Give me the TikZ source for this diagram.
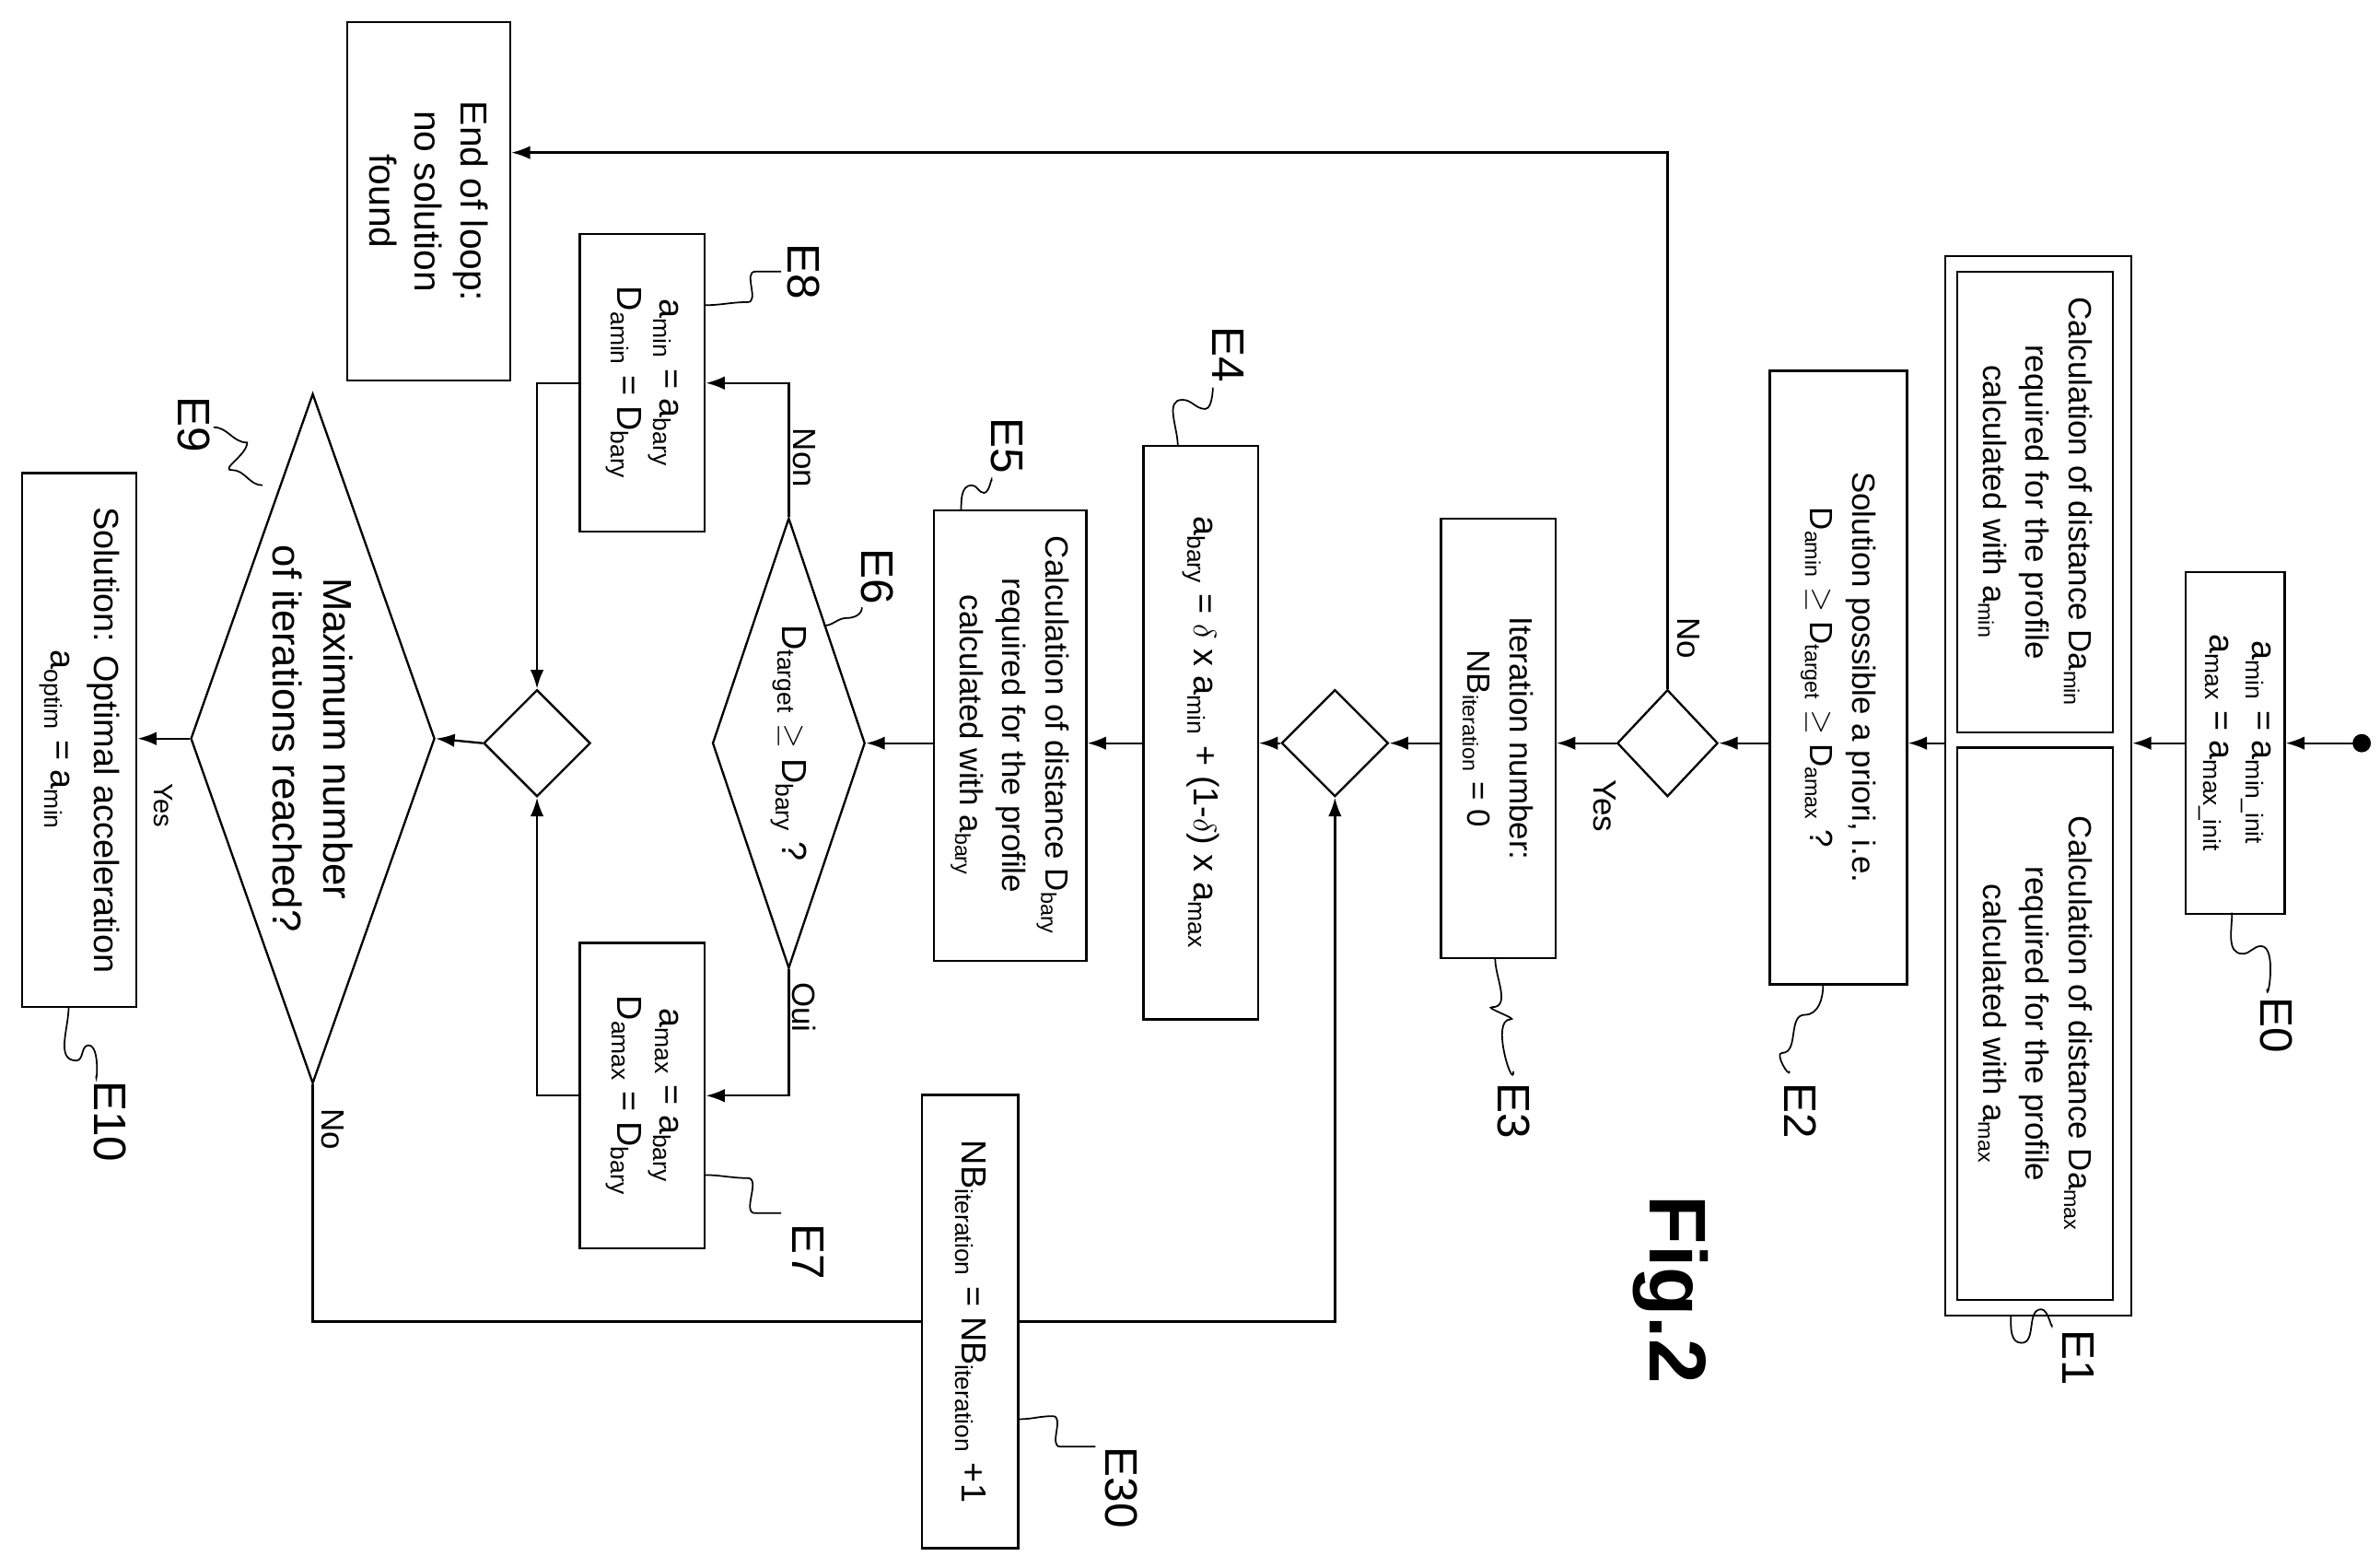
\documentclass[tikz,border=0pt]{standalone}
\usepackage{fontspec}
\setmainfont{Liberation Sans}
\usetikzlibrary{shapes.geometric,arrows.meta,calc}
\newcommand{\sbs}[1]{\textsubscript{#1}}
\begin{document}
\begin{tikzpicture}[x=0.02cm,y=-0.02cm,
  every node/.style={font=\fontsize{12}{16}\selectfont},
  box/.style={draw,rotate=-90,align=center,fill=white,inner sep=2pt,line width=0.8pt},
  dia/.style={draw,diamond,inner sep=0pt,line width=0.8pt},
  txt/.style={rotate=-90,align=center},
  lab/.style={rotate=-90,font=\fontsize{17}{20}\selectfont},
  arr/.style={line width=0.8pt,-{Latex[length=7pt,width=5pt]}},
  sq/.style={line width=0.6pt}]
\useasboundingbox (0,0) rectangle (1560,1027);
% nodes
\fill (1548,487) circle (6) coordinate (start);
\node[box,minimum width=224*0.02cm,minimum height=65*0.02cm,font=\fontsize{13}{16}\selectfont] (e0) at (1465,487) {a\sbs{min} = a\sbs{min\_init}\\a\sbs{max} = a\sbs{max\_init}};
\node[box,minimum width=694*0.02cm,minimum height=122*0.02cm] (e1) at (1336,515) {};
\node[box,minimum width=302*0.02cm,minimum height=102*0.02cm] (e1a) at (1334,329) {Calculation of distance Da\sbs{min}\\required for the profile\\calculated with a\sbs{min}};
\node[box,minimum width=362*0.02cm,minimum height=102*0.02cm] (e1b) at (1334,671) {Calculation of distance Da\sbs{max}\\required for the profile\\calculated with a\sbs{max}};
\node[box,minimum width=402*0.02cm,minimum height=90*0.02cm] (e2) at (1205,444) {Solution possible a priori, i.e.\\D\sbs{amin} $\geq$ D\sbs{target} $\geq$ D\sbs{amax} ?};
\node[dia,minimum width=66*0.02cm,minimum height=70*0.02cm] (d1) at (1093,487) {};
\node[box,minimum width=235*0.02cm,minimum height=107*0.02cm,font=\fontsize{14}{17}\selectfont] (end) at (281,132) {End of loop:\\no solution\\found};
\node[box,minimum width=288*0.02cm,minimum height=75*0.02cm] (e3) at (982,484) {Iteration number:\\NB\sbs{iteration} = 0};
\node[dia,minimum width=70*0.02cm,minimum height=70*0.02cm] (d2) at (875,487) {};
\node[box,minimum width=376*0.02cm,minimum height=75*0.02cm,font=\fontsize{13}{16}\selectfont] (e4) at (787,480) {a\sbs{bary} = $\delta$ x a\sbs{min} + (1-$\delta$) x a\sbs{max}};
\node[box,minimum width=295*0.02cm,minimum height=100*0.02cm] (e5) at (662,482) {Calculation of distance D\sbs{bary}\\required for the profile\\calculated with a\sbs{bary}};
\node[dia,minimum width=100*0.02cm,minimum height=295*0.02cm] (e6) at (517,487) {};
\node[txt,font=\fontsize{13}{16}\selectfont] at (e6) {D\sbs{target} $\geq$ D\sbs{bary} ?};
\node[box,minimum width=195*0.02cm,minimum height=82*0.02cm,font=\fontsize{13}{16}\selectfont] (e8) at (421,251) {a\sbs{min} = a\sbs{bary}\\D\sbs{amin} = D\sbs{bary}};
\node[box,minimum width=200*0.02cm,minimum height=82*0.02cm,font=\fontsize{13}{16}\selectfont] (e7) at (421,718) {a\sbs{max} = a\sbs{bary}\\D\sbs{amax} = D\sbs{bary}};
\node[dia,minimum width=70*0.02cm,minimum height=70*0.02cm] (d3) at (352,487) {};
\node[dia,minimum width=160*0.02cm,minimum height=452*0.02cm] (e9) at (205,484) {};
\node[txt,font=\fontsize{15}{19}\selectfont] at (e9) {Maximum number\\of iterations reached?};
\node[box,minimum width=350*0.02cm,minimum height=75*0.02cm,font=\fontsize{13}{16}\selectfont] (e10) at (52,485) {Solution: Optimal acceleration\\a\sbs{optim} = a\sbs{min}};
\coordinate (c30) at (636,866);
% connectors
\draw[arr] (start) -- (e0.north);
\draw[arr] (e0.south) -- (e0.south -| e1.north);
\draw[arr] (e1.south |- start) -- (start -| e2.north);
\draw[arr] (e2.south |- d1) -- (d1.east);
\draw[arr] (d1.north) |- ($(end.north)+(0,-32)$);
\draw[arr] (d1.west) -- (e3.north |- d1);
\draw[arr] (e3.south |- d2) -- (d2.east);
\draw[arr] (d2.west) -- (e4.north |- d2);
\draw[arr] (e4.south |- d2) -- (e5.north |- d2);
\draw[arr] (e5.south |- d2) -- (e6.east);
\draw[arr] (e6.north) |- (e8.north);
\draw[arr] (e6.south) |- (e7.north);
\draw[arr] (e8.south) -| (d3.north);
\draw[arr] (e7.south) -| (d3.south);
\draw[arr] (d3.west) -- (e9.east);
\draw[arr] (e9.west) -- (e10.north |- e9.west);
\draw[arr] (e9.south) |- (c30) -| (d2.south);
\node[box,minimum width=297*0.02cm,minimum height=63*0.02cm,font=\fontsize{13}{16}\selectfont] (e30) at (c30) {NB\sbs{iteration} = NB\sbs{iteration} +1};
% branch labels
\node[txt] (lno1) at (1107,418) {No};
\node[txt] (lyes1) at (1052,528) {Yes};
\node[txt] (lnon) at (527,300) {Non};
\node[txt] (loui) at (527,660) {Oui};
\node[txt,font=\fontsize{10}{12}\selectfont] (lyes2) at (107,528) {Yes};
\node[txt] (lno2) at (218,740) {No};
% reference labels
\node[lab] (t0) at (1492,672) {E0};
\node[lab] (t1) at (1362,890) {E1};
\node[lab] (t2) at (1180,728) {E2};
\node[lab] (t3) at (992,728) {E3};
\node[lab] (t4) at (805,232) {E4};
\node[lab] (t5) at (660,292) {E5};
\node[lab] (t6) at (575,378) {E6};
\node[lab] (t7) at (530,820) {E7};
\node[lab] (t8) at (527,178) {E8};
\node[lab] (t9) at (127,278) {E9};
\node[lab] (t10) at (72,735) {E10};
\node[lab] (t30) at (735,975) {E30};
\node[rotate=-90,font=\bfseries\fontsize{30}{34}\selectfont] (fig) at (1095,845) {Fig.2};
% squiggles
\draw[sq] (1463,598) to[out=-90,in=180] (1470,625) to[out=0,in=180] (1482,620) to[out=0,in=-90] (1486,648);
\draw[sq] (1318,862) to[out=-90,in=180] (1325,880) to[out=0,in=180] (1338,858) to[out=0,in=-90] (1345,868);
\draw[sq] (1195,645) to[out=-90,in=0] (1183,665) to[out=180,in=0] (1168,690) to[out=180,in=-90] (1173,702);
\draw[sq] (980,628) to[out=-90,in=0] (978,660) to[out=180,in=0] (990,668) to[out=180,in=-90] (992,702);
\draw[sq] (772,292) to[out=90,in=180] (775,262) to[out=0,in=180] (790,268) to[out=0,in=90] (795,255);
\draw[sq] (630,335) to[out=90,in=180] (637,318) to[out=0,in=180] (645,323) to[out=0,in=90] (650,315);
\draw[sq] (540,410) to[out=0,in=180] (555,405) to[out=0,in=-90] (565,398);
\draw[sq] (462,770) to[out=0,in=180] (490,772) to[out=0,in=180] (495,795) to[out=0,in=180] (512,795);
\draw[sq] (462,200) to[out=0,in=180] (490,198) to[out=0,in=180] (495,178) to[out=0,in=180] (512,178);
\draw[sq] (172,318) to[out=180,in=0] (152,308) to[out=180,in=-90] (162,290) to[out=180,in=0] (140,280);
\draw[sq] (45,660) to[out=-90,in=180] (50,695) to[out=0,in=180] (58,685) to[out=0,in=-90] (63,705);
\draw[sq] (668,930) to[out=0,in=180] (690,928) to[out=0,in=180] (695,948) to[out=0,in=180] (718,948);
\end{tikzpicture}
\end{document}
